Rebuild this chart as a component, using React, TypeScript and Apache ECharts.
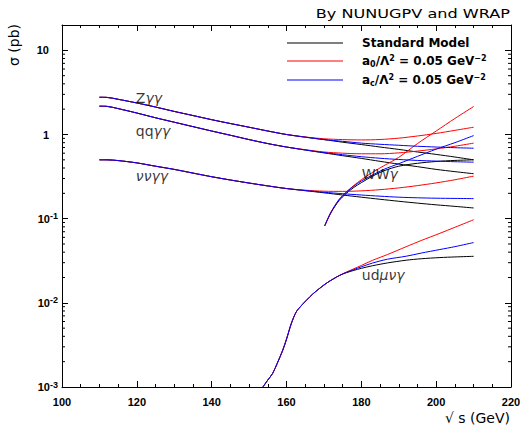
import React, { useEffect, useRef } from "react";
import * as echarts from "echarts";

// ---- data (σ in pb vs √s in GeV) ----
const gamX = [110, 112, 115, 120, 125, 130, 135, 140, 145, 150, 155, 160, 165, 170, 175, 180, 185, 190, 195, 200, 205, 210];

const zggSM = [2.77, 2.76, 2.62, 2.37, 2.12, 1.88, 1.68, 1.5, 1.35, 1.22, 1.1, 1.0, 0.93, 0.87, 0.81, 0.76, 0.71, 0.665, 0.62, 0.58, 0.54, 0.5];
const zggA0Tail = [0.935, 0.89, 0.87, 0.862, 0.872, 0.905, 0.96, 1.03, 1.12, 1.22];
const zggAcTail = [0.93, 0.87, 0.83, 0.79, 0.765, 0.745, 0.725, 0.71, 0.697, 0.687];

const qqSM = [2.17, 2.16, 2.03, 1.8, 1.58, 1.4, 1.24, 1.1, 0.98, 0.87, 0.78, 0.71, 0.655, 0.605, 0.56, 0.52, 0.48, 0.445, 0.415, 0.385, 0.362, 0.342];
const qqA0Tail = [0.66, 0.62, 0.6, 0.59, 0.59, 0.605, 0.635, 0.675, 0.725, 0.79];
const qqAcTail = [0.655, 0.61, 0.575, 0.545, 0.522, 0.505, 0.492, 0.483, 0.475, 0.469];

const nnSM = [0.5, 0.5, 0.49, 0.46, 0.42, 0.385, 0.348, 0.315, 0.288, 0.265, 0.245, 0.228, 0.215, 0.203, 0.191, 0.18, 0.17, 0.161, 0.153, 0.146, 0.14, 0.134];
const nnA0Tail = [0.218, 0.212, 0.211, 0.214, 0.221, 0.232, 0.247, 0.266, 0.29, 0.32];
const nnAcTail = [0.216, 0.206, 0.198, 0.191, 0.185, 0.18, 0.177, 0.175, 0.174, 0.173];

const wwX = [170.2, 171, 172, 174, 176, 178, 180, 183, 186, 190, 195, 200, 205, 210];
const wwSM = [0.082, 0.098, 0.12, 0.163, 0.2, 0.235, 0.268, 0.32, 0.37, 0.42, 0.455, 0.478, 0.492, 0.5];
const wwA0 = [0.082, 0.099, 0.122, 0.168, 0.208, 0.248, 0.29, 0.355, 0.425, 0.535, 0.78, 1.1, 1.55, 2.15];
const wwAc = [0.082, 0.099, 0.122, 0.167, 0.206, 0.244, 0.28, 0.33, 0.385, 0.45, 0.55, 0.67, 0.8, 0.97];

const udX = [153.7, 155, 156.3, 157.5, 159, 160, 161.3, 162.6, 164, 165.3, 167, 168.8, 171, 174.2, 176, 178, 180, 183, 187, 192, 196, 201, 205, 210];
const udSM = [0.001, 0.00121, 0.00145, 0.0019, 0.00274, 0.0037, 0.0057, 0.0078, 0.0093, 0.0107, 0.0127, 0.0148, 0.0175, 0.0212, 0.0228, 0.0243, 0.0257, 0.0276, 0.0298, 0.0321, 0.0334, 0.0345, 0.0351, 0.0357];
const udA0Tail = [0.0232, 0.0254, 0.0278, 0.032, 0.0375, 0.0465, 0.055, 0.067, 0.079, 0.097];
const udAcTail = [0.023, 0.0248, 0.0268, 0.0297, 0.033, 0.0358, 0.039, 0.043, 0.0465, 0.052];

const xTicks = [100, 120, 140, 160, 180, 200, 220];
const decades = [0.001, 0.01, 0.1, 1, 10];

const BLACK = "#000000";
const RED = "#ff0000";
const BLUE = "#0000ff";

const withTail = (head: number[], tail: number[]) => head.slice(0, head.length - tail.length).concat(tail);
const pairs = (xs: number[], ys: number[]) => xs.map((x, i) => [x, ys[i]]);

const minorLog: number[] = [];
decades.forEach((d) => {
  for (let k = 2; k <= 9; k++) {
    const v = d * k;
    if (v < 20) minorLog.push(v);
  }
});

const TICKFONT = "Liberation Sans";

function lineSeries(name: string, color: string, data: number[][]) {
  return {
    type: "line",
    name,
    data,
    symbol: "none",
    smooth: 0.3,
    lineStyle: { color, width: 1 },
    itemStyle: { color },
    z: 3,
  };
}

export default function App() {
  const ref = useRef<HTMLDivElement>(null);
  useEffect(() => {
    const chart = echarts.init(ref.current!, null, { renderer: "svg" });
    const series: any[] = [];
    // black (SM)
    series.push(lineSeries("SM", BLACK, pairs(gamX, zggSM)));
    series.push(lineSeries("SM", BLACK, pairs(gamX, qqSM)));
    series.push(lineSeries("SM", BLACK, pairs(gamX, nnSM)));
    series.push(lineSeries("SM", BLACK, pairs(wwX, wwSM)));
    series.push(lineSeries("SM", BLACK, pairs(udX, udSM)));
    // red (a0)
    series.push(lineSeries("a0", RED, pairs(gamX, withTail(zggSM, zggA0Tail))));
    series.push(lineSeries("a0", RED, pairs(gamX, withTail(qqSM, qqA0Tail))));
    series.push(lineSeries("a0", RED, pairs(gamX, withTail(nnSM, nnA0Tail))));
    series.push(lineSeries("a0", RED, pairs(wwX, wwA0)));
    series.push(lineSeries("a0", RED, pairs(udX, withTail(udSM, udA0Tail))));
    // blue (ac)
    series.push(lineSeries("ac", BLUE, pairs(gamX, withTail(zggSM, zggAcTail))));
    series.push(lineSeries("ac", BLUE, pairs(gamX, withTail(qqSM, qqAcTail))));
    series.push(lineSeries("ac", BLUE, pairs(gamX, withTail(nnSM, nnAcTail))));
    series.push(lineSeries("ac", BLUE, pairs(wwX, wwAc)));
    series.push(lineSeries("ac", BLUE, pairs(udX, withTail(udSM, udAcTail))));

    // log minor ticks on left and right axes
    series.push({
      type: "custom",
      silent: true,
      clip: false,
      data: minorLog.map((v) => [100, v]),
      encode: { x: 0, y: 1 },
      renderItem: (_p: any, api: any) => {
        const v = api.value(1);
        const l = api.coord([100, v]);
        const r = api.coord([220, v]);
        return {
          type: "group",
          children: [
            { type: "line", shape: { x1: l[0], y1: l[1], x2: l[0] + 3, y2: l[1] }, style: { stroke: BLACK, lineWidth: 1 } },
            { type: "line", shape: { x1: r[0] - 3, y1: r[1], x2: r[0], y2: r[1] }, style: { stroke: BLACK, lineWidth: 1 } },
          ],
        };
      },
      z: 5,
    });

    // curve labels
    const lblFont = "DejaVu Sans";
    series.push({
      type: "scatter",
      silent: true,
      symbolSize: 1,
      itemStyle: { color: "rgba(0,0,0,0)" },
      data: [
        { value: [119.6, 2.75], name: "{n|Z}{g|γγ}" },
        { value: [119.6, 1.11], name: "{n|qq}{g|γγ}" },
        { value: [119.6, 0.318], name: "{g|ννγγ}" },
        { value: [180.0, 0.336], name: "{n|WW}{g|γ}" },
        { value: [180.0, 0.0212], name: "{n|ud}{g|μνγ}" },
      ],
      label: {
        show: true,
        position: "right",
        distance: 0,
        formatter: (p: any) => p.name,
        rich: {
          n: { fontFamily: lblFont, fontSize: 14, color: BLACK },
          g: { fontFamily: lblFont, fontSize: 14, fontStyle: "italic", color: BLACK },
        },
      },
      z: 6,
    });

    const sup = { fontFamily: TICKFONT, fontWeight: "bold", fontSize: 9, verticalAlign: "top", lineHeight: 9, color: BLACK };

    const option: any = {
      animation: false,
      backgroundColor: "#ffffff",
      grid: { left: 62, right: 13, top: 25, bottom: 39, containLabel: false },
      xAxis: [
        {
          type: "value",
          min: 100,
          max: 220,
          interval: 20,
          position: "bottom",
          axisLine: { show: true, lineStyle: { color: BLACK, width: 1 } },
          axisTick: { show: true, inside: true, length: 6, lineStyle: { color: BLACK } },
          minorTick: { show: true, splitNumber: 4, length: 3, lineStyle: { color: BLACK } },
          splitLine: { show: false },
          axisLabel: {
            show: true,
            margin: 9,
            color: BLACK,
            fontFamily: TICKFONT,
            fontWeight: "bold",
            fontSize: 11,
            formatter: (v: number) => (xTicks.indexOf(v) >= 0 ? String(v) : ""),
          },
        },
        {
          type: "value",
          min: 100,
          max: 220,
          interval: 20,
          position: "top",
          axisLine: { show: true, lineStyle: { color: BLACK, width: 1 } },
          axisTick: { show: true, inside: true, length: 6, lineStyle: { color: BLACK } },
          minorTick: { show: true, splitNumber: 4, length: 3, lineStyle: { color: BLACK } },
          splitLine: { show: false },
          axisLabel: { show: false },
        },
      ],
      yAxis: [
        {
          type: "log",
          logBase: 10,
          min: 0.001,
          max: 20,
          position: "left",
          axisLine: { show: true, lineStyle: { color: BLACK, width: 1 } },
          axisTick: { show: true, inside: true, length: 6, lineStyle: { color: BLACK } },
          splitLine: { show: false },
          axisLabel: {
            show: true,
            margin: 4,
            color: BLACK,
            formatter: (v: number) => {
              const e = Math.round(Math.log10(v));
              if (Math.abs(Math.log10(v) - e) > 1e-6) return "";
              if (e === 0) return "{b|1}{s| }";
              if (e === 1) return "{b|10}{s| }";
              return "{b|10}{e|" + e + "}";
            },
            rich: {
              b: { fontFamily: TICKFONT, fontWeight: "bold", fontSize: 11, lineHeight: 14, color: BLACK },
              e: sup,
              s: { width: 9, fontSize: 9 },
            },
          },
        },
        {
          type: "log",
          logBase: 10,
          min: 0.001,
          max: 20,
          position: "right",
          axisLine: { show: true, lineStyle: { color: BLACK, width: 1 } },
          axisTick: { show: true, inside: true, length: 6, lineStyle: { color: BLACK } },
          splitLine: { show: false },
          axisLabel: { show: false },
        },
      ],
      legend: {
        orient: "vertical",
        left: 287,
        top: 37,
        padding: 0,
        itemWidth: 56,
        itemHeight: 1,
        itemGap: 5,
        icon: "rect",
        selectedMode: false,
        data: ["SM", "a0", "ac"],
        formatter: (name: string) => {
          if (name === "SM") return "{t|Standard Model}";
          const sub = name === "a0" ? "0" : "c";
          return "{t|a}{d|" + sub + "}{t|/Λ}{p|2}{t| = 0.05 GeV}{p|−2}";
        },
        textStyle: {
          padding: [0, 0, 0, 14],
          rich: {
            t: { fontFamily: "DejaVu Sans", fontWeight: "bold", fontSize: 12, lineHeight: 14, color: BLACK },
            d: { fontFamily: "DejaVu Sans", fontWeight: "bold", fontSize: 8, lineHeight: 8, verticalAlign: "bottom", color: BLACK },
            p: { fontFamily: "DejaVu Sans", fontWeight: "bold", fontSize: 8, lineHeight: 8, verticalAlign: "top", color: BLACK },
          },
        },
      },
      graphic: [
        {
          type: "text",
          x: 510,
          y: 13,
          scaleX: 1.24,
          style: {
            text: "By NUNUGPV and WRAP",
            fontFamily: "DejaVu Sans",
            fontSize: 13,
            fill: BLACK,
            textAlign: "right",
            textVerticalAlign: "middle",
          },
        },
        {
          type: "text",
          x: 14,
          y: 45,
          rotation: Math.PI / 2,
          style: {
            text: "σ (pb)",
            fontFamily: "DejaVu Sans",
            fontSize: 14,
            fill: BLACK,
            textAlign: "center",
            textVerticalAlign: "middle",
          },
        },
        {
          type: "text",
          x: 510,
          y: 418,
          style: {
            text: "√ s (GeV)",
            fontFamily: "DejaVu Sans",
            fontSize: 14,
            fill: BLACK,
            textAlign: "right",
            textVerticalAlign: "middle",
          },
        },
      ],
      series,
    };
    chart.setOption(option);
    return () => chart.dispose();
  }, []);
  return <div ref={ref} style={{ position: "fixed", left: 0, top: 0, width: 524, height: 426 }} />;
}
